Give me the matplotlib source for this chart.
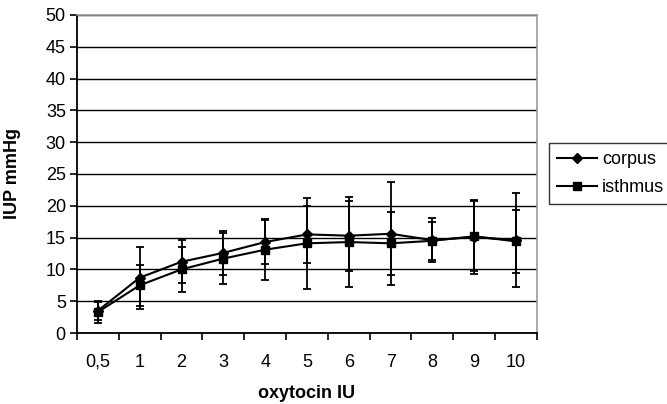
import numpy as np
import matplotlib
matplotlib.use("Agg")
import matplotlib.pyplot as plt
from matplotlib.ticker import FixedLocator
from matplotlib.lines import Line2D

plt.rcParams['font.family'] = ['Liberation Sans', 'DejaVu Sans']

doses = ['0,5', '1', '2', '3', '4', '5', '6', '7', '8', '9', '10']
corpus = [3.5, 8.7, 11.2, 12.6, 14.3, 15.5, 15.3, 15.6, 14.6, 15.1, 14.6]
corpus_sd = [1.4, 4.9, 3.4, 3.5, 3.4, 4.5, 5.5, 8.1, 3.5, 5.8, 7.4]
isthmus = [3.3, 7.5, 10.0, 11.7, 13.1, 14.1, 14.3, 14.1, 14.5, 15.2, 14.4]
isthmus_sd = [1.8, 3.2, 3.5, 4.0, 4.8, 7.2, 7.1, 5.0, 3.0, 5.5, 5.0]

fig = plt.figure(figsize=(6.67, 4.04), dpi=100)
ax = fig.add_axes([0.1154, 0.1757, 0.6896, 0.7873])

x = np.arange(len(doses))
ax.errorbar(x, corpus, yerr=corpus_sd, color='black', marker='D', markersize=5,
            linewidth=1.5, elinewidth=1.3, capsize=3, capthick=1.3, zorder=3)
ax.errorbar(x, isthmus, yerr=isthmus_sd, color='black', marker='s', markersize=6,
            linewidth=1.5, elinewidth=1.3, capsize=3, capthick=1.3, zorder=3)

ax.set_xlim(-0.5, len(doses) - 0.5)
ax.set_ylim(0, 50)
ax.set_yticks(np.arange(0, 51, 5))
ax.yaxis.grid(True, color='black', linewidth=1)
ax.set_axisbelow(True)

ax.set_xticks(x)
ax.set_xticklabels(doses)
ax.xaxis.set_minor_locator(FixedLocator(np.arange(-0.5, len(doses), 1)))
ax.tick_params(axis='x', which='major', length=0, pad=15, labelsize=13)
ax.tick_params(axis='x', which='minor', length=5, width=1.2, color='black')
ax.tick_params(axis='y', length=5, width=1.2, labelsize=13, pad=3)

for s in ['left', 'bottom']:
    ax.spines[s].set_linewidth(1.3)
    ax.spines[s].set_color('black')
for s in ['top', 'right']:
    ax.spines[s].set_linewidth(1.2)
    ax.spines[s].set_color('#999999')

ax.set_xlabel('oxytocin IU', fontsize=13, fontweight='bold', labelpad=10)
ax.set_ylabel('IUP mmHg', fontsize=13, fontweight='bold')
ax.yaxis.set_label_coords(-0.122, 0.5)

handles = [Line2D([], [], color='black', marker='D', markersize=5, linewidth=1.5),
           Line2D([], [], color='black', marker='s', markersize=6, linewidth=1.5)]
leg = fig.legend(handles, ['corpus', 'isthmus'], loc='upper left',
                 bbox_to_anchor=(0.823, 0.646), frameon=True,
                 fontsize=13, handlelength=2.2, handletextpad=0.3, borderpad=0.45,
                 labelspacing=0.6, fancybox=False, borderaxespad=0)
leg.get_frame().set_edgecolor('black')
leg.get_frame().set_linewidth(1)

fig.savefig('out.png', dpi=100)
